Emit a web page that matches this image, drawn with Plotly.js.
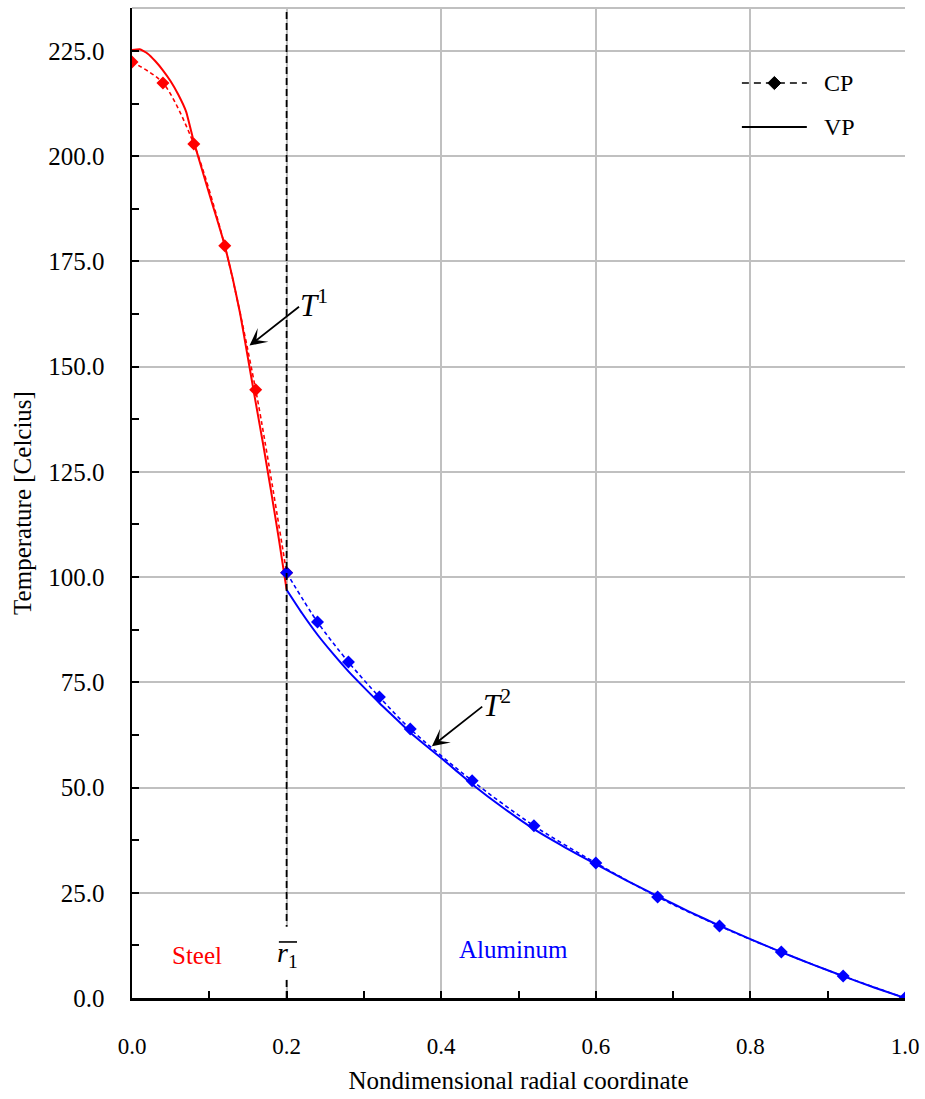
<!DOCTYPE html>
<html>
<head>
<meta charset="utf-8">
<script src="https://cdn.plot.ly/plotly-3.0.1.min.js"></script>
<style>html,body{margin:0;padding:0;background:#fff;}#chart{width:925px;height:1099px;}</style>
</head>
<body>
<div id="chart"></div>
<script>
// Steel (inner layer) – constant properties (CP), markers
const steelCP_x = [0, 0.04, 0.08, 0.12, 0.16, 0.2];
const steelCP_y = [222.4, 217.4, 202.9, 178.7, 144.5, 101.0];
// Steel – variable properties (VP), solid
const steelVP_x = [0, 0.01, 0.02, 0.03, 0.04, 0.05, 0.06, 0.07, 0.08, 0.09, 0.10, 0.11, 0.12, 0.13, 0.14, 0.15, 0.16, 0.17, 0.18, 0.19, 0.20];
const steelVP_y = [225.2, 225.4, 224.4, 222.6, 220.4, 217.8, 214.6, 210.6, 203.4, 197.2, 191.0, 185.0, 178.8, 171.2, 162.5, 152.0, 141.5, 131.2, 120.3, 109.0, 97.0];
// Aluminum (outer layer) – CP
const aluCP_x = [0.2, 0.24, 0.28, 0.32, 0.36, 0.44, 0.52, 0.6, 0.68, 0.76, 0.84, 0.92, 1.0];
const aluCP_y = [101.0, 89.3, 79.8, 71.5, 63.9, 51.6, 40.9, 32.1, 24.0, 17.1, 10.9, 5.2, 0.0];
// Aluminum – VP
const aluVP_x = [0.2, 0.22, 0.24, 0.26, 0.28, 0.3, 0.32, 0.34, 0.36, 0.38, 0.4, 0.42, 0.44, 0.48, 0.52, 0.56, 0.6, 0.64, 0.68, 0.72, 0.76, 0.8, 0.84, 0.88, 0.92, 0.96, 1.0];
const aluVP_y = [97.0, 91.4, 86.3, 81.8, 77.6, 73.8, 70.1, 66.6, 63.1, 60.0, 57.0, 53.9, 50.8, 45.2, 40.1, 35.8, 31.8, 27.9, 24.2, 20.6, 17.2, 14.0, 10.9, 8.0, 5.2, 2.5, 0.0];

const xTickVals = [0, 0.2, 0.4, 0.6, 0.8, 1.0];
const yTickVals = [0, 25, 50, 75, 100, 125, 150, 175, 200, 225];
const legendNames = ['CP', 'VP'];
const r1 = 0.2;

const FONT = 'Liberation Serif, Times New Roman, serif';
const RED = '#ff0000', BLUE = '#0000ff';

const traces = [
  {x: steelVP_x, y: steelVP_y, mode: 'lines', line: {color: RED, width: 2, shape: 'spline', smoothing: 0.4}, showlegend: false, hoverinfo: 'skip'},
  {x: steelCP_x, y: steelCP_y, mode: 'lines+markers', line: {color: RED, width: 1.6, dash: '4px,3px', shape: 'spline', smoothing: 0.8}, marker: {symbol: 'diamond', size: 10, color: RED}, showlegend: false},
  {x: aluVP_x, y: aluVP_y, mode: 'lines', line: {color: BLUE, width: 2, shape: 'spline', smoothing: 0.5}, showlegend: false, hoverinfo: 'skip'},
  {x: aluCP_x, y: aluCP_y, mode: 'lines+markers', line: {color: BLUE, width: 1.6, dash: '4px,3px', shape: 'spline', smoothing: 0.8}, marker: {symbol: 'diamond', size: 10, color: BLUE}, showlegend: false}
];

// legend key geometry (paper coords)
const LX0 = 0.789, LX1 = 0.873, LXC = 0.831, LYCP = 0.9242, LYVP = 0.8798;
const dx = 0.0085, dy = 0.0066;

const layout = {
  width: 925, height: 1099,
  margin: {l: 132, r: 20, t: 8, b: 101},
  paper_bgcolor: '#fff', plot_bgcolor: '#fff',
  font: {family: FONT, size: 22, color: '#000'},
  showlegend: false,
  xaxis: {
    range: [0, 1], tickvals: xTickVals, tickformat: '.1f',
    showgrid: true, gridcolor: '#c0c0c0', gridwidth: 2,
    showline: true, linecolor: '#000', linewidth: 2.5,
    ticks: 'inside', ticklen: 7, tickwidth: 2, tickcolor: '#000',
    minor: {dtick: 0.1, ticks: 'inside', ticklen: 7, tickwidth: 2, tickcolor: '#000', showgrid: false},
    ticklabelstandoff: 26,
    zeroline: false,
    tickfont: {family: FONT, size: 23},
    title: {text: 'Nondimensional radial coordinate', font: {family: FONT, size: 25}, standoff: 14}
  },
  yaxis: {
    range: [0, 235.2], tickvals: yTickVals, tickformat: '.1f',
    showgrid: true, gridcolor: '#c0c0c0', gridwidth: 2,
    showline: true, linecolor: '#000', linewidth: 2.5,
    ticks: 'inside', ticklen: 7, tickwidth: 2, tickcolor: '#000',
    minor: {dtick: 12.5, ticks: 'inside', ticklen: 7, tickwidth: 2, tickcolor: '#000', showgrid: false},
    ticklabelstandoff: 20,
    zeroline: false,
    tickfont: {family: FONT, size: 25},
    title: {text: 'Temperature [Celcius]', font: {family: FONT, size: 25}, standoff: 10}
  },
  shapes: [
    {type: 'line', xref: 'paper', yref: 'paper', x0: 0, x1: 1, y0: 1, y1: 1, line: {color: '#c0c0c0', width: 2}},
    {type: 'line', xref: 'x', yref: 'paper', x0: r1, x1: r1, y0: 0, y1: 1, line: {color: '#000', width: 1.8, dash: '7px,4px'}, layer: 'above'},
    // white gap behind r̄1 label
    {type: 'rect', xref: 'paper', yref: 'paper', x0: 0.185, x1: 0.218, y0: 0.0185, y1: 0.0720, fillcolor: '#fff', line: {width: 0}, layer: 'above'},
    // overbar of r̄1
    {type: 'line', xref: 'paper', yref: 'paper', x0: 0.190, x1: 0.2135, y0: 0.0566, y1: 0.0566, line: {color: '#000', width: 1.6}, layer: 'above'},
    // legend keys
    {type: 'rect', xref: 'paper', yref: 'paper', x0: 0.78, x1: 0.95, y0: 0.86, y1: 0.945, fillcolor: '#fff', line: {width: 0}, layer: 'below'},
    {type: 'line', xref: 'paper', yref: 'paper', x0: LX0, x1: LX1, y0: LYCP, y1: LYCP, line: {color: '#000', width: 1.6, dash: '7px,5px'}, layer: 'above'},
    {type: 'path', xref: 'paper', yref: 'paper', path: `M ${LXC - dx} ${LYCP} L ${LXC} ${LYCP + dy} L ${LXC + dx} ${LYCP} L ${LXC} ${LYCP - dy} Z`, fillcolor: '#000', line: {color: '#000', width: 1}, layer: 'above'},
    {type: 'line', xref: 'paper', yref: 'paper', x0: LX0, x1: LX1, y0: LYVP, y1: LYVP, line: {color: '#000', width: 2.2}, layer: 'above'}
  ],
  annotations: [
    {x: 0.893, y: LYCP, xref: 'paper', yref: 'paper', text: legendNames[0], showarrow: false, xanchor: 'left', yanchor: 'middle', font: {family: FONT, size: 24}},
    {x: 0.893, y: LYVP, xref: 'paper', yref: 'paper', text: legendNames[1], showarrow: false, xanchor: 'left', yanchor: 'middle', font: {family: FONT, size: 24}},
    {x: 0.152, y: 155, ax: 0.218, ay: 164.5, xref: 'x', yref: 'y', axref: 'x', ayref: 'y', text: '', showarrow: true, arrowhead: 3, arrowsize: 1.6, arrowwidth: 1.8, arrowcolor: '#000'},
    {x: 0.215, y: 165, xref: 'x', yref: 'y', text: '<i>T</i><sup>1</sup>', showarrow: false, xanchor: 'left', yanchor: 'middle', font: {family: FONT, size: 31}},
    {x: 0.388, y: 59.8, ax: 0.455, ay: 69.5, xref: 'x', yref: 'y', axref: 'x', ayref: 'y', text: '', showarrow: true, arrowhead: 3, arrowsize: 1.6, arrowwidth: 1.8, arrowcolor: '#000'},
    {x: 0.452, y: 70, xref: 'x', yref: 'y', text: '<i>T</i><sup>2</sup>', showarrow: false, xanchor: 'left', yanchor: 'middle', font: {family: FONT, size: 31}},
    {x: 0.0835, y: 10, xref: 'x', yref: 'y', text: 'Steel', showarrow: false, font: {family: FONT, size: 25, color: RED}},
    {x: 0.493, y: 11.5, xref: 'x', yref: 'y', text: 'Aluminum', showarrow: false, font: {family: FONT, size: 25, color: BLUE}},
    {x: 0.2015, y: 10.3, xref: 'x', yref: 'y', text: '<i>r</i><sub>1</sub>', showarrow: false, font: {family: FONT, size: 28}}
  ]
};

Plotly.newPlot('chart', traces, layout, {displayModeBar: false, staticPlot: true});
</script>
</body>
</html>
